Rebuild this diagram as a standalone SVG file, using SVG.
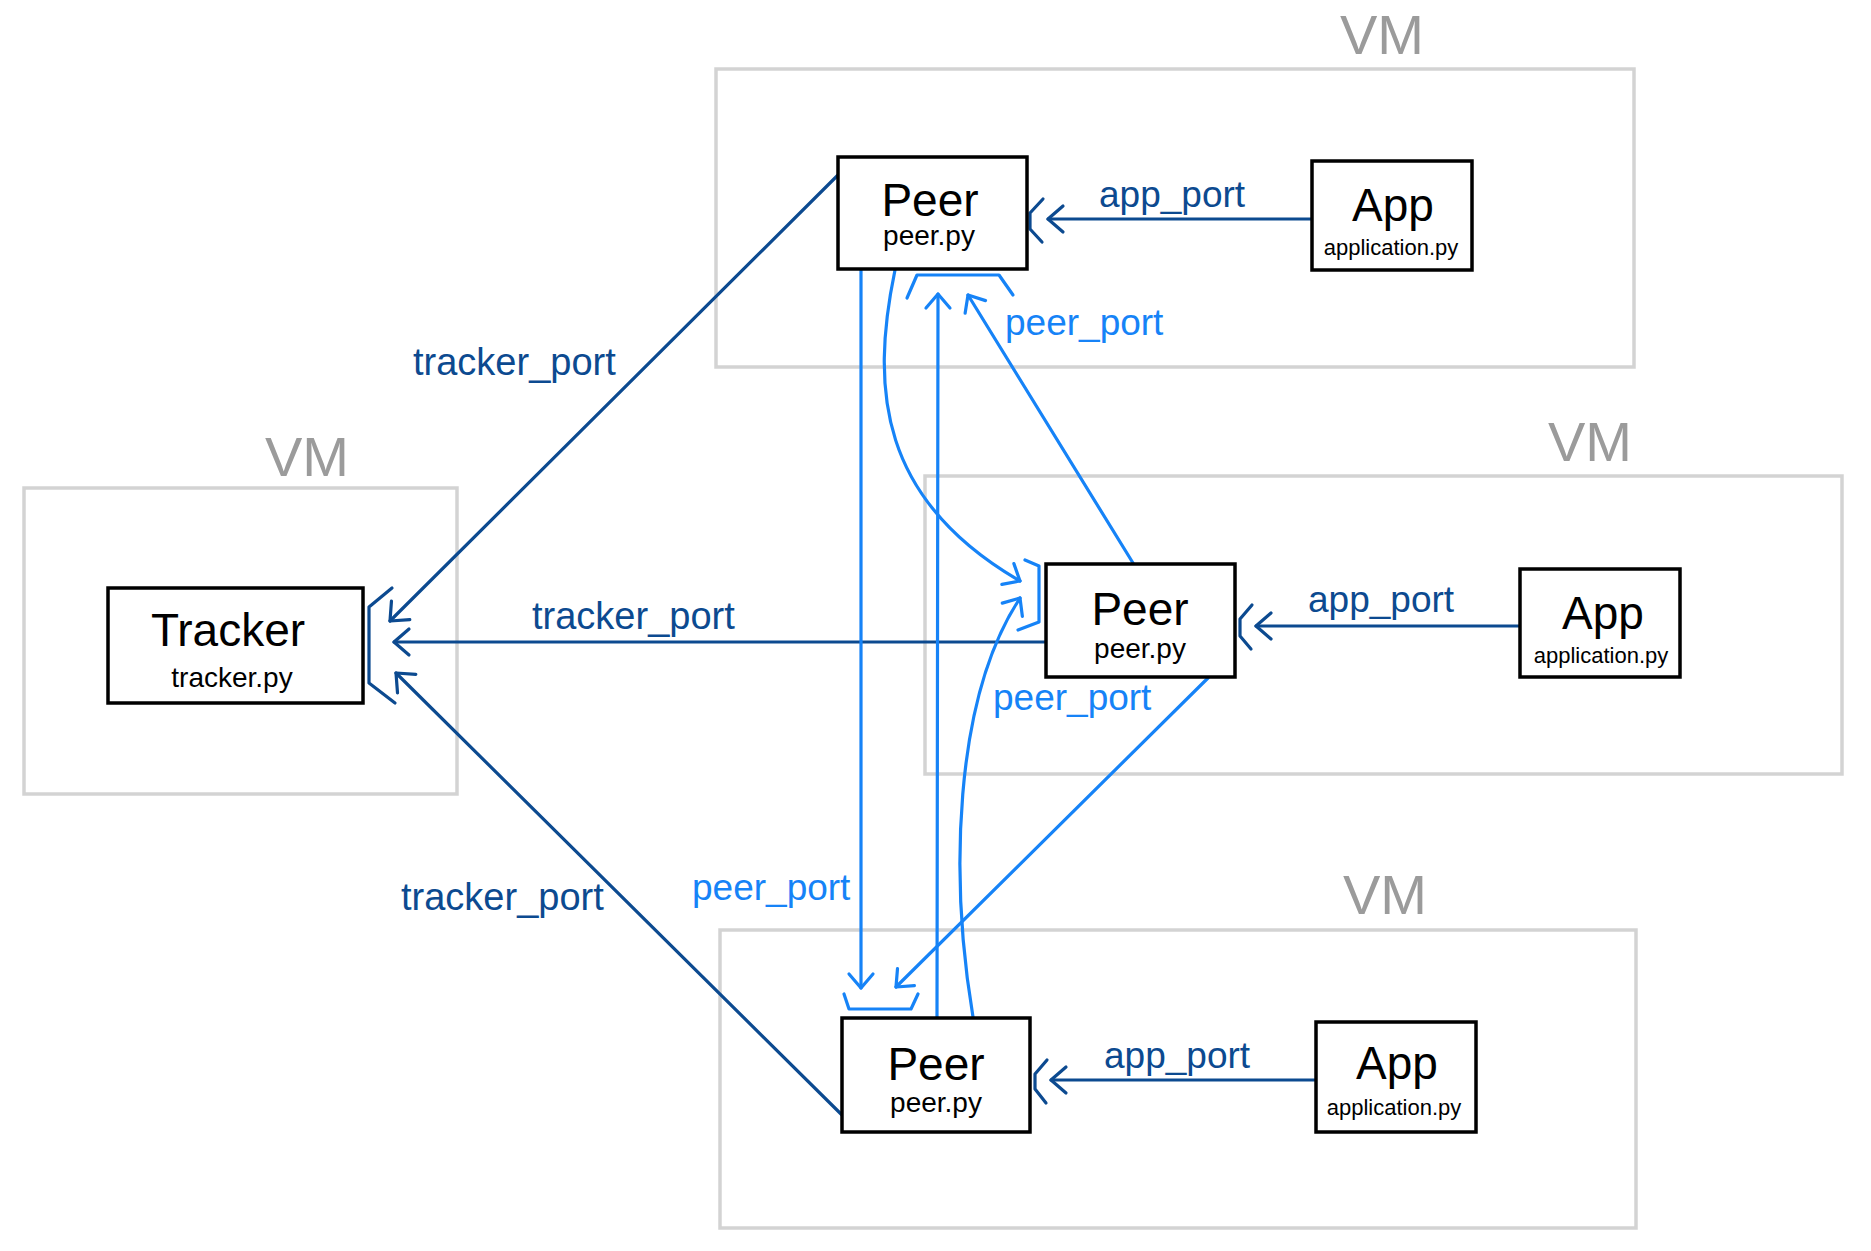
<svg xmlns="http://www.w3.org/2000/svg" width="1871" height="1251" viewBox="0 0 1871 1251">
<defs>
<style>
.vm{fill:none;stroke:#d3d3d3;stroke-width:3.5}
.vmt{font-family:"Liberation Sans",Arial,sans-serif;font-size:56px;fill:#9b9b9b;text-anchor:middle}
.box{fill:#fff;stroke:#000;stroke-width:3.5}
.t1{font-family:"Liberation Sans",Arial,sans-serif;font-size:46px;fill:#000;text-anchor:middle}
.t2{font-family:"Liberation Sans",Arial,sans-serif;font-size:28px;fill:#000;text-anchor:middle}
.t3{font-family:"Liberation Sans",Arial,sans-serif;font-size:22px;fill:#000;text-anchor:middle}
.dk{fill:none;stroke:#0c4a90;stroke-width:3.2;stroke-linecap:round;stroke-linejoin:round}
.lt{fill:none;stroke:#1683f7;stroke-width:3.2;stroke-linecap:round;stroke-linejoin:round}
.dka{marker-end:url(#ad)}
.lta{marker-end:url(#al)}
.ld{font-family:"Liberation Sans",Arial,sans-serif;font-size:37px;fill:#0c4a90}
.ldt{font-size:38px}
.ll{font-family:"Liberation Sans",Arial,sans-serif;font-size:37px;fill:#1683f7}
</style>
<marker id="ad" markerUnits="userSpaceOnUse" viewBox="-25 -25 50 50" markerWidth="50" markerHeight="50" refX="0" refY="0" orient="auto" overflow="visible">
<path d="M -15,-13 L 0,0 L -15,13" fill="none" stroke="#0c4a90" stroke-width="3.2" stroke-linecap="round" stroke-linejoin="round"/>
</marker>
<marker id="al" markerUnits="userSpaceOnUse" viewBox="-25 -25 50 50" markerWidth="50" markerHeight="50" refX="0" refY="0" orient="auto" overflow="visible">
<path d="M -14,-12 L 0,0 L -14,12" fill="none" stroke="#1683f7" stroke-width="3.2" stroke-linecap="round" stroke-linejoin="round"/>
</marker>
</defs>
<rect width="1871" height="1251" fill="#fff"/>

<g id="vm-top"><rect class="vm" x="716" y="69" width="918" height="298"/><text class="vmt" x="1382" y="54">VM</text></g>
<g id="vm-left"><rect class="vm" x="24" y="488" width="433" height="306"/><text class="vmt" x="307" y="476">VM</text></g>
<g id="vm-middle"><rect class="vm" x="925" y="476" width="917" height="298"/><text class="vmt" x="1590" y="461">VM</text></g>
<g id="vm-bottom"><rect class="vm" x="720" y="930" width="916" height="298"/><text class="vmt" x="1385" y="914">VM</text></g>

<g id="connectors">
<path class="dk dka" d="M 1312 219 L 1048 219"/>
<polyline class="dk" points="1043,199 1030,213 1030,229 1042,242"/>
<path class="dk dka" d="M 1520 626 L 1256 626"/>
<polyline class="dk" points="1252,605 1240,619 1240,636 1251,649"/>
<path class="dk dka" d="M 1316 1080 L 1051 1080"/>
<polyline class="dk" points="1047,1060 1035,1074 1035,1089 1046,1103"/>
<path class="dk dka" d="M 838 175 L 390 621"/>
<path class="dk dka" d="M 1046 642 L 394 642"/>
<path class="dk dka" d="M 842 1115 L 396 673"/>
<polyline class="dk" points="392,588 369,607 369,683 395,703"/>
<path class="lt lta" d="M 861 270 L 861 988"/>
<path class="lt lta" d="M 937 1018 L 938 294"/>
<path class="lt lta" d="M 1133 563 L 968 295"/>
<path class="lt lta" d="M 1208 678 L 896 987"/>
<path class="lt lta" d="M 895 270 C 870 390, 880 500, 1020 581"/>
<path class="lt lta" d="M 973 1017 C 950 880, 953 700, 1020 598"/>
<polyline class="lt" points="907,298 917,275 999,275 1013,295"/>
<polyline class="lt" points="1025,560 1039,566 1039,622 1018,630"/>
<polyline class="lt" points="844,994 849,1009 911,1009 918,994"/>
</g>

<g id="labels">
<text class="ld ldt" x="413" y="375">tracker_port</text>
<text class="ld ldt" x="532" y="629">tracker_port</text>
<text class="ld ldt" x="401" y="910">tracker_port</text>
<text class="ld" x="1099" y="207">app_port</text>
<text class="ld" x="1308" y="612">app_port</text>
<text class="ld" x="1104" y="1068">app_port</text>
<text class="ll" x="1005" y="335">peer_port</text>
<text class="ll" x="993" y="710">peer_port</text>
<text class="ll" x="692" y="900">peer_port</text>
</g>

<g id="tracker"><rect class="box" x="108" y="588" width="255" height="115"/><text class="t1" x="228" y="646">Tracker</text><text class="t2" x="232" y="687">tracker.py</text></g>
<g id="peer-top"><rect class="box" x="838" y="157" width="189" height="112"/><text class="t1" x="930" y="216">Peer</text><text class="t2" x="929" y="245">peer.py</text></g>
<g id="app-top"><rect class="box" x="1312" y="161" width="160" height="109"/><text class="t1" x="1393" y="221">App</text><text class="t3" x="1391" y="255">application.py</text></g>
<g id="peer-middle"><rect class="box" x="1046" y="564" width="189" height="113"/><text class="t1" x="1140" y="625">Peer</text><text class="t2" x="1140" y="658">peer.py</text></g>
<g id="app-middle"><rect class="box" x="1520" y="569" width="160" height="108"/><text class="t1" x="1603" y="629">App</text><text class="t3" x="1601" y="663">application.py</text></g>
<g id="peer-bottom"><rect class="box" x="842" y="1018" width="188" height="114"/><text class="t1" x="936" y="1080">Peer</text><text class="t2" x="936" y="1112">peer.py</text></g>
<g id="app-bottom"><rect class="box" x="1316" y="1022" width="160" height="110"/><text class="t1" x="1397" y="1079">App</text><text class="t3" x="1394" y="1115">application.py</text></g>
</svg>
